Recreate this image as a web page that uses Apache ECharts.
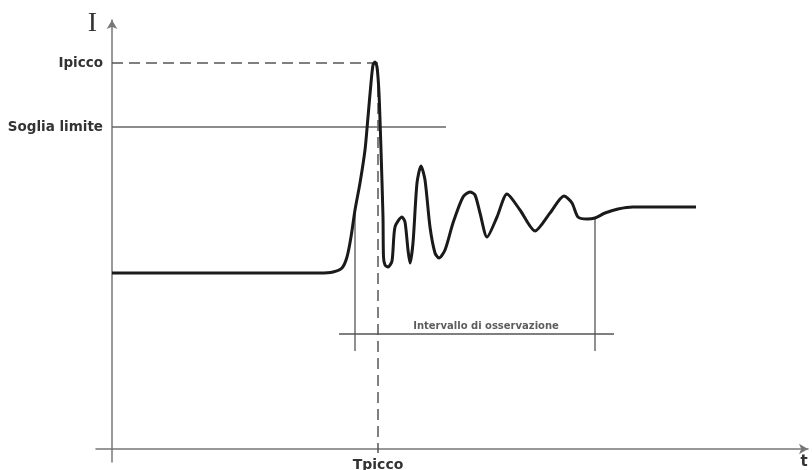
<!DOCTYPE html>
<html>
<head>
<meta charset="utf-8">
<script src="https://cdn.jsdelivr.net/npm/echarts@6/dist/echarts.min.js"></script>
<style>
  html, body { margin: 0; padding: 0; background: #fff; }
  #chart { width: 812px; height: 470px; }
</style>
</head>
<body>
<div id="chart"></div>
<script>
// forma d'onda della corrente (t, I)
var timeData = [0, 60, 104, 110.5, 115, 117.5, 119.5, 121.5, 124, 126.5, 128, 129.5, 130.5, 131.5, 132.5,
    133.5, 134.5, 135.5, 135.75, 136.5, 138, 140, 141.5, 145, 146.5, 148, 149, 150.5, 152.5, 154.5,
    156.5, 159, 161.5, 163.5, 166.5, 170.5, 175.5, 179, 181.5, 184, 187.5, 192.5, 197.5, 204, 211.5,
    219, 226, 230, 233, 237.5, 241.5, 246.5, 253, 260.5, 292];
var currentData = [88, 88, 88, 88.5, 90.5, 96, 106, 119.5, 133, 149.5, 166, 183, 192, 193.5, 191,
    178, 149.5, 116, 96, 92, 91, 94, 111, 116, 113.5, 99.5, 93, 103, 133, 141.5,
    134.5, 111, 98, 95.5, 99.5, 113, 126, 128.5, 127, 118, 106, 116, 127.5, 119.5, 109,
    118, 126.5, 123, 116, 115, 115.5, 118, 120, 121, 121];

// linee di riferimento
var ipiccoLine = [[0, 193], [133, 193], [133, -2]];
var sogliaLine = [[0, 161], [167, 161]];
var obsLeft = [[121.5, 120], [121.5, 49]];
var obsRight = [[241.5, 115.5], [241.5, 49]];
var obsBar = [[113.5, 57.5], [251, 57.5]];
var obsText = [[187, 61.5]];

var yTicks = [161, 193];
var yTickNames = { 161: 'Soglia limite', 193: 'Ipicco' };
var xTicks = [133];

var waveform = [];
for (var i = 0; i < timeData.length; i++) {
    waveform.push([timeData[i], currentData[i]]);
}

var myChart = echarts.init(document.getElementById('chart'));

var refStyle = { color: '#666', width: 1.5 };

option = {
    animation: false,
    grid: { left: 96, right: 4, top: 20, bottom: 8, outerBoundsMode: 'none', containLabel: false },
    xAxis: {
        type: 'value',
        min: -8,
        max: 348,
        name: 't',
        nameLocation: 'end',
        nameGap: -4,
        nameTextStyle: {
            fontFamily: 'DejaVu Sans', fontSize: 15, fontWeight: 'bold', color: '#333',
            align: 'center', verticalAlign: 'top', padding: [6, 0, 0, 0]
        },
        splitLine: { show: false },
        axisTick: { show: false },
        axisLine: {
            onZero: true,
            symbol: ['none', 'arrow'],
            symbolSize: [8, 9],
            lineStyle: { color: '#777', width: 1.5 }
        },
        axisLabel: {
            customValues: xTicks,
            formatter: function () { return 'Tpicco'; },
            fontFamily: 'DejaVu Sans', fontSize: 14, fontWeight: 'bold', color: '#333',
            margin: -4
        }
    },
    yAxis: {
        type: 'value',
        min: -6.5,
        max: 214.5,
        name: 'I',
        nameLocation: 'end',
        nameGap: 10,
        nameTextStyle: {
            fontFamily: 'Liberation Serif', fontSize: 28, color: '#333',
            align: 'right', verticalAlign: 'top', padding: [0, 15, 0, 0]
        },
        splitLine: { show: false },
        axisTick: { show: false },
        axisLine: {
            onZero: true,
            symbol: ['none', 'arrow'],
            symbolSize: [8, 9],
            lineStyle: { color: '#777', width: 1.5 }
        },
        axisLabel: {
            customValues: yTicks,
            formatter: function (v) { return yTickNames[v] || ''; },
            fontFamily: 'DejaVu Sans', fontSize: 13.5, fontWeight: 'bold', color: '#333',
            margin: -7
        }
    },
    series: [
        {
            type: 'line', data: ipiccoLine, symbol: 'none', silent: true,
            lineStyle: { color: '#555', width: 1.5, type: [11, 6] }
        },
        {
            type: 'line', data: sogliaLine, symbol: 'none', silent: true,
            lineStyle: refStyle
        },
        {
            type: 'line', data: obsLeft, symbol: 'none', silent: true,
            lineStyle: { color: '#555', width: 1.3 }
        },
        {
            type: 'line', data: obsRight, symbol: 'none', silent: true,
            lineStyle: { color: '#555', width: 1.3 }
        },
        {
            type: 'line', data: obsBar, symbol: 'none', silent: true,
            lineStyle: { color: '#555', width: 1.3 }
        },
        {
            type: 'scatter', data: obsText, symbolSize: 0, silent: true,
            label: {
                show: true, position: 'inside',
                formatter: 'Intervallo di osservazione',
                fontFamily: 'DejaVu Sans', fontSize: 10, fontWeight: 'bold', color: '#333'
            }
        },
        {
            name: 'I(t)',
            type: 'line',
            data: waveform,
            symbol: 'none',
            smooth: 0.25,
            z: 5,
            lineStyle: { color: '#1a1a1a', width: 3 }
        }
    ]
};

myChart.setOption(option);
</script>
</body>
</html>
